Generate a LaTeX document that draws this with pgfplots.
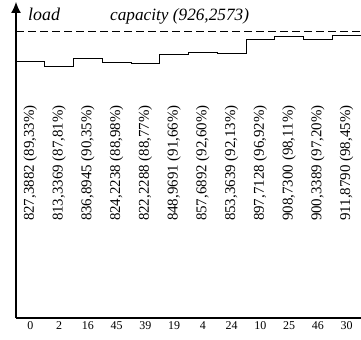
\documentclass[border=0pt]{standalone}
\usepackage{fontspec}
\setmainfont{Liberation Serif}
\usepackage{pgfplots}
\pgfplotsset{compat=1.18}
\usetikzlibrary{arrows.meta}
\begin{document}
\begin{tikzpicture}
\path[use as bounding box] (-16bp,-22bp) rectangle (345bp,318bp);
\begin{axis}[
  at={(0,0)}, anchor=south west,
  scale only axis, width=345bp, height=316bp,
  xmin=0, xmax=12, ymin=0, ymax=1020,
  axis lines=left,
  axis line style={line width=1.2pt},
  x axis line style={-},
  y axis line style={-{Latex[length=11bp,width=10bp]}},
  xtick={0.5,1.5,...,11.5},
  xticklabels={0,2,16,45,39,19,4,24,10,25,46,30},
  ytick=\empty,
  major tick length=0pt,
  /pgf/number format/assume math mode=true,
  xticklabel style={font=\fontsize{12}{14}\selectfont, inner sep=1pt, yshift=-2bp},
  clip=false,
]
\addplot[const plot, black, line width=1pt] coordinates {
(0,827.3882) (1,813.3369) (2,836.8945) (3,824.2238) (4,822.2288) (5,848.9691)
(6,857.6892) (7,853.3639) (8,897.7128) (9,908.7300) (10,900.3389) (11,911.8790) (12,911.8790)};
\addplot[black, line width=1pt, dash pattern=on 8bp off 4bp] coordinates {(0,926.2573) (12,926.2573)};
\addplot[only marks, mark=none, nodes near coords, point meta=explicit symbolic,
  nodes near coords style={rotate=90, anchor=center, font=\fontsize{15}{18}\selectfont, inner sep=0pt}]
  table[col sep=semicolon, meta=label] {
x;y;label
0.5;500;827,3882 (89,33\%)
1.5;500;813,3369 (87,81\%)
2.5;500;836,8945 (90,35\%)
3.5;500;824,2238 (88,98\%)
4.5;500;822,2288 (88,77\%)
5.5;500;848,9691 (91,66\%)
6.5;500;857,6892 (92,60\%)
7.5;500;853,3639 (92,13\%)
8.5;500;897,7128 (96,92\%)
9.5;500;908,7300 (98,11\%)
10.5;500;900,3389 (97,20\%)
11.5;500;911,8790 (98,45\%)
};
\end{axis}
\node[anchor=base west, inner sep=0pt, font=\fontsize{18}{20}\selectfont\itshape] at (12bp,297bp) {load};
\node[anchor=base west, inner sep=0pt, font=\fontsize{17.3}{20}\selectfont\itshape] at (94bp,297bp) {capacity (926,2573)};
\end{tikzpicture}
\end{document}
